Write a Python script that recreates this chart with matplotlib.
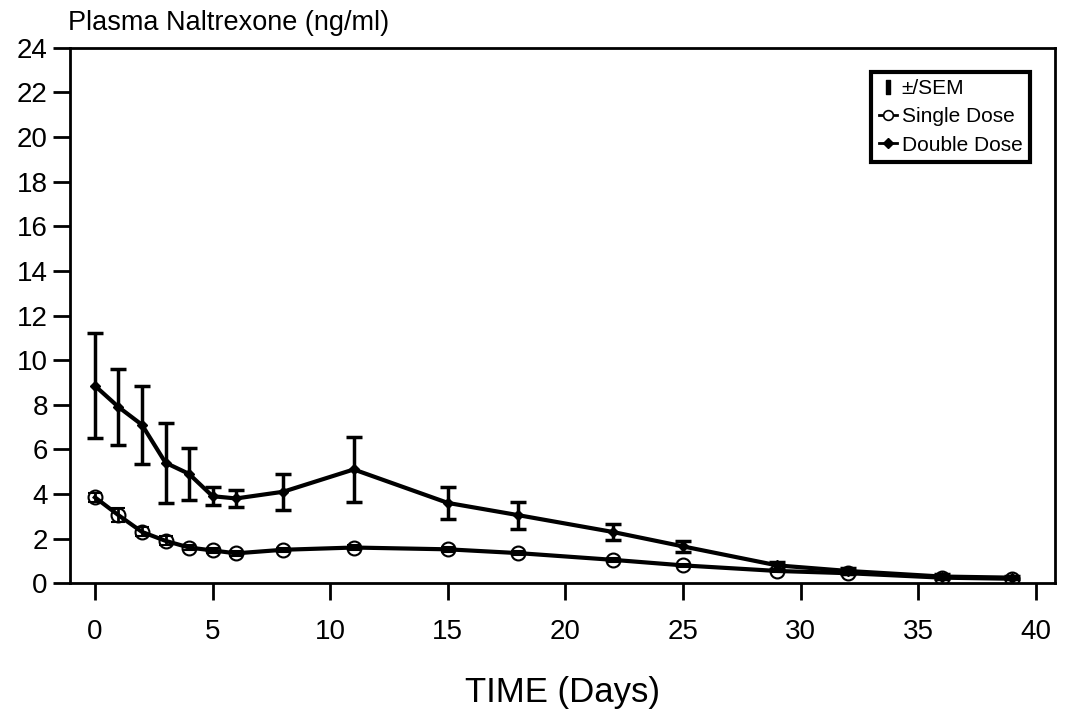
import matplotlib
matplotlib.use("Agg")
import matplotlib.pyplot as plt
from matplotlib.lines import Line2D
import numpy as np

plt.rcParams['font.family'] = ['Liberation Sans', 'DejaVu Sans']

# dane
dni = [0, 1, 2, 3, 4, 5, 6, 8, 11, 15, 18, 22, 25, 29, 32, 36, 39]
double_dose = [8.85, 7.9, 7.1, 5.4, 4.9, 3.9, 3.8, 4.1, 5.1, 3.6, 3.05, 2.3, 1.65, 0.8, 0.55, 0.3, 0.25]
double_sem = [2.35, 1.7, 1.75, 1.8, 1.15, 0.4, 0.4, 0.8, 1.45, 0.72, 0.6, 0.35, 0.25, 0.15, 0.12, 0.1, 0.08]
single_dose = [3.85, 3.05, 2.3, 1.9, 1.6, 1.47, 1.34, 1.5, 1.6, 1.52, 1.35, 1.05, 0.8, 0.55, 0.45, 0.25, 0.2]
single_sem = [0.2, 0.3, 0.2, 0.2, 0.12, 0.1, 0.1, 0.1, 0.1, 0.1, 0.08, 0.08, 0.08, 0.06, 0.05, 0.05, 0.05]

fig = plt.figure(figsize=(10.72, 7.13), dpi=100)
ax = fig.add_axes([0.0653, 0.182, 0.9187, 0.751])

ax.errorbar(dni, double_dose, yerr=double_sem, color='black', linewidth=3,
            marker='D', markersize=5, elinewidth=2.5, capsize=6, capthick=2.5, zorder=3)
ax.errorbar(dni, single_dose, yerr=single_sem, color='black', linewidth=3,
            marker='o', markersize=10, markerfacecolor='none', markeredgewidth=1.5,
            elinewidth=2, capsize=5, capthick=2, zorder=4)

ax.set_xlim(-1.06, 40.8)
ax.set_ylim(0, 24)
ax.set_xticks(range(0, 41, 5))
ax.set_yticks(range(0, 25, 2))
ax.tick_params(axis='both', labelsize=20, length=12, width=2, direction='out')
ax.tick_params(axis='x', pad=14)
ax.tick_params(axis='y', pad=4)
for s in ax.spines.values():
    s.set_linewidth(2)

fig.text(0.063, 0.968, "Plasma Naltrexone (ng/ml)", fontsize=19.5, ha='left', va='center')
ax.set_xlabel("TIME (Days)", fontsize=25, labelpad=22)

handles = [
    Line2D([], [], color='black', linestyle='none', marker=r'$\mathbf{I}$', markersize=10),
    Line2D([], [], color='black', linewidth=2, marker='o', markersize=7,
           markerfacecolor='white', markeredgewidth=1.2),
    Line2D([], [], color='black', linewidth=2, marker='D', markersize=5),
]
leg = ax.legend(handles, ["±/SEM", "Single Dose", "Double Dose"], loc='upper right',
                bbox_to_anchor=(0.985, 0.975), fontsize=15, handlelength=0.9,
                handletextpad=0.2, fancybox=False, framealpha=1, edgecolor='black',
                borderpad=0.35, labelspacing=0.45)
leg.get_frame().set_linewidth(3)

fig.savefig("out.png", dpi=100)
